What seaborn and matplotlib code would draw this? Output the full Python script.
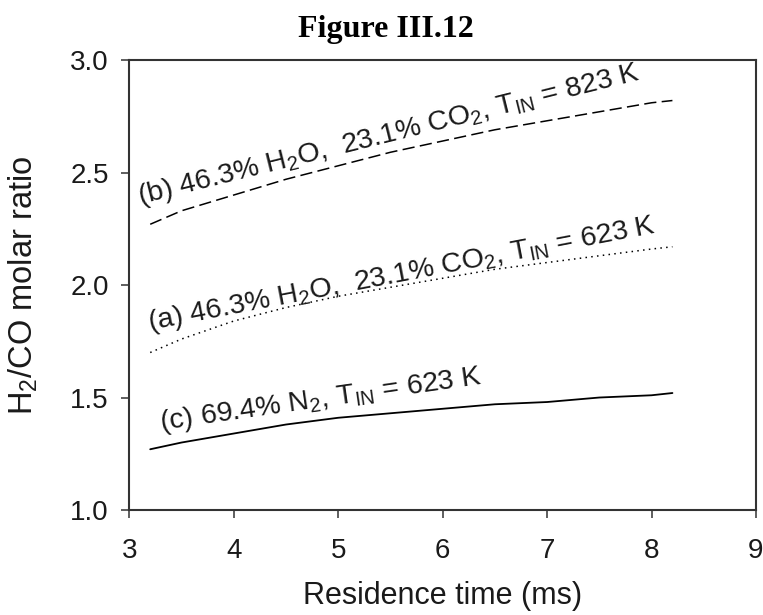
import matplotlib
matplotlib.use("Agg")
import matplotlib.pyplot as plt
import pandas as pd
import seaborn as sns

# Residence time (ms) and H2/CO molar ratio for the three feed compositions
residence_ms = [3.2, 3.5, 4.0, 4.5, 5.0, 5.5, 6.0, 6.5, 7.0, 7.5, 8.0, 8.2]
ratio_a = [1.70, 1.76, 1.84, 1.90, 1.95, 1.99, 2.03, 2.07, 2.10, 2.13, 2.16, 2.17]
ratio_b = [2.27, 2.33, 2.40, 2.47, 2.53, 2.59, 2.64, 2.69, 2.73, 2.77, 2.81, 2.82]
ratio_c = [1.27, 1.30, 1.34, 1.38, 1.41, 1.43, 1.45, 1.47, 1.48, 1.50, 1.51, 1.52]

x_ticks = [3, 4, 5, 6, 7, 8, 9]
y_ticks = [1.0, 1.5, 2.0, 2.5, 3.0]

label_a = r"(a) 46.3% $\mathregular{H_2O}$,  23.1% $\mathregular{CO_2}$, $\mathregular{T_{IN}}$ = 623 K"
label_b = r"(b) 46.3% $\mathregular{H_2O}$,  23.1% $\mathregular{CO_2}$, $\mathregular{T_{IN}}$ = 823 K"
label_c = r"(c) 69.4% $\mathregular{N_2}$, $\mathregular{T_{IN}}$ = 623 K"

sns.set_style("ticks")
plt.rcParams["font.family"] = ["Liberation Sans", "DejaVu Sans"]
plt.rcParams["mathtext.default"] = "regular"

ink = "#1a1a1a"
frame = "#333333"

fig = plt.figure(figsize=(7.63, 6.15), dpi=100)
ax = fig.add_axes([0.1695, 0.1707, 0.8213, 0.7317])

df = pd.DataFrame({"t": residence_ms, "a": ratio_a, "b": ratio_b, "c": ratio_c})

sns.lineplot(data=df, x="t", y="b", ax=ax, color="black", lw=1.1,
             linestyle=(0, (8, 3.5)))
sns.lineplot(data=df, x="t", y="a", ax=ax, color="black", lw=1.1,
             linestyle=(0, (1, 2.8)))
sns.lineplot(data=df, x="t", y="c", ax=ax, color="black", lw=1.3,
             linestyle="-")

ax.set_xlim(3, 9)
ax.set_ylim(1, 3)
ax.set_xticks(x_ticks)
ax.set_xticklabels([str(v) for v in x_ticks])
ax.set_yticks(y_ticks)
ax.set_yticklabels([f"{v:.1f}" for v in y_ticks])

for sp in ax.spines.values():
    sp.set_visible(True)
    sp.set_linewidth(1.5)
    sp.set_color(frame)

ax.tick_params(axis="both", direction="out", length=5.8, width=1.1,
               color=frame, labelsize=20, labelcolor=ink)
ax.tick_params(axis="x", pad=14)
ax.tick_params(axis="y", pad=9)

ax.set_xlabel("Residence time (ms)", fontsize=22, color=ink)
ax.set_ylabel(r"$\mathregular{H_2}$/CO molar ratio", fontsize=23.5, color=ink)
ax.xaxis.set_label_coords(0.5, -0.158)
ax.yaxis.set_label_coords(-0.143, 0.5)

text_kw = dict(fontsize=20.5, color=ink, ha="left", va="baseline",
               rotation_mode="anchor")
ax.text(3.10, 2.36, label_b, rotation=14.0, **text_kw)
ax.text(3.19, 1.80, label_a, rotation=10.9, **text_kw)
ax.text(3.30, 1.356, label_c, rotation=8.2, **text_kw)

fig.text(0.506, 0.9398, "Figure III.12", ha="center", va="baseline",
         fontsize=23, fontweight="bold", family=["Liberation Serif", "DejaVu Serif"],
         color="black")

fig.savefig("out.png", dpi=100, facecolor="white")
